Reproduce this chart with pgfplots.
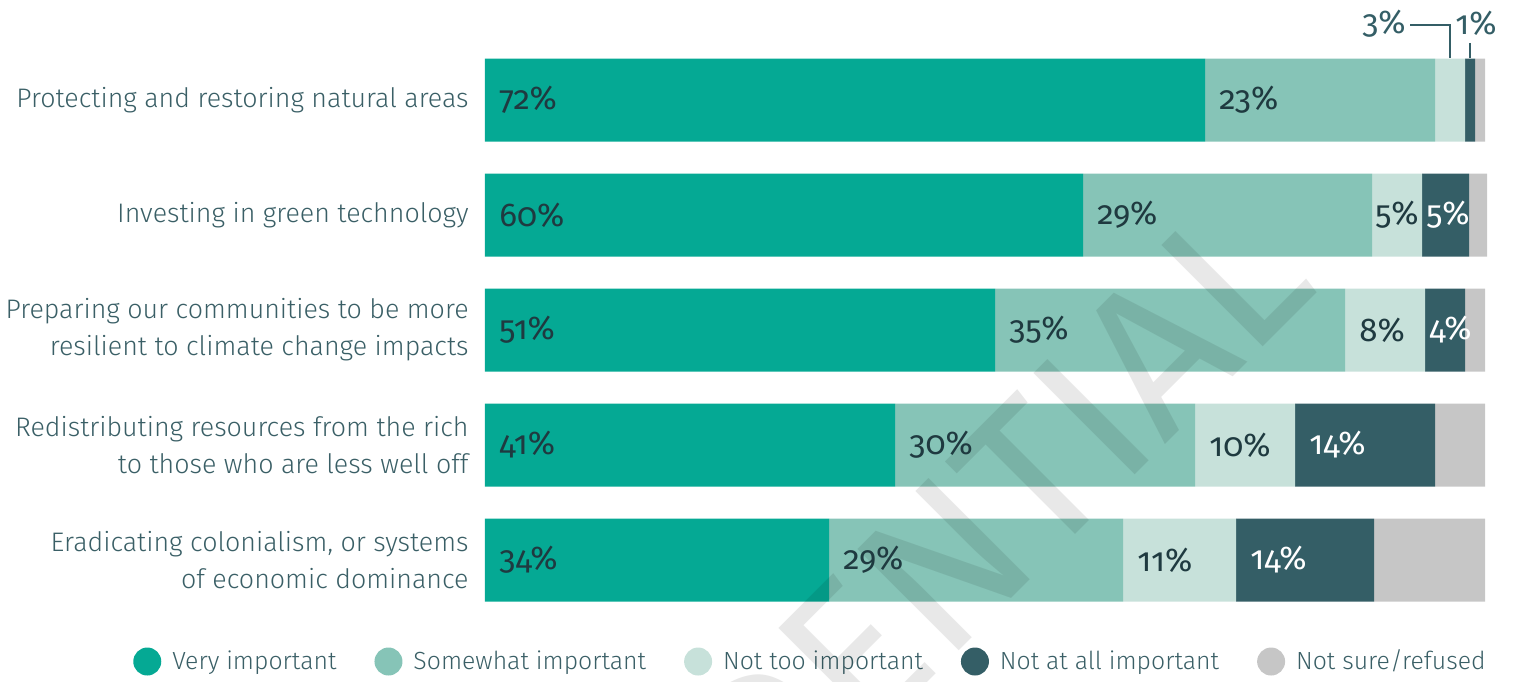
\documentclass[border=0pt]{standalone}
\usepackage{fontspec}
\setmainfont{Fira Sans}[UprightFont=* Light, BoldFont=*]
\newfontfamily\numfont{Fira Sans}[Numbers=OldStyle]
\newfontfamily\wmfont{Fira Sans}
\usepackage{pgfplots}
\pgfplotsset{compat=1.18}
\usepackage{pgfplotstable}

\definecolor{cVery}{HTML}{05A994}
\definecolor{cSome}{HTML}{86C4B7}
\definecolor{cNotToo}{HTML}{C7E1DA}
\definecolor{cNotAll}{HTML}{345E66}
\definecolor{cUnsure}{HTML}{C6C6C6}
\definecolor{labcol}{HTML}{3A5F66}
\definecolor{valdark}{HTML}{1F3A40}

% bar lengths and the printed labels
\pgfplotstableread{
y v    s    n    a    u    lv ls ln la
0 72   23   3    1    1    72 23 3  1
1 59.8 28.9 5.0  4.7  1.8  60 29 5  5
2 51   35   8    4    2    51 35 8  4
3 41   30   10   14   5    41 30 10 14
4 34.4 29.4 11.3 13.8 11.1 34 29 11 14
}\datatable
\pgfplotstablecreatecol[expr={\thisrow{v}}]{c1}{\datatable}
\pgfplotstablecreatecol[expr={\thisrow{v}+\thisrow{s}}]{c2}{\datatable}
\pgfplotstablecreatecol[expr={\thisrow{v}+\thisrow{s}+\thisrow{n}}]{c3}{\datatable}

\newcommand{\labfont}{\fontsize{13.4}{18.5}\selectfont}
\newcommand{\legfont}{\fontsize{12.4}{15}\selectfont}
\newcommand{\valfont}{\numfont\fontsize{16.5}{18}\selectfont}

\begin{document}
\begin{tikzpicture}
\useasboundingbox (-242.5pt,-31.75pt) rectangle (514pt,308.75pt);
\begin{axis}[
  at={(0,0)}, anchor=south west,
  scale only axis, width=500pt, height=287.5pt,
  xbar stacked, bar width=41.5pt,
  xmin=0, xmax=100, ymin=-0.5, ymax=4.5, y dir=reverse,
  axis line style={draw=none}, xtick=\empty, ytick={0,1,2,3,4},
  major tick length=0pt,
  yticklabels={Protecting and restoring natural areas,
    Investing in green technology,
    {Preparing our communities to be more\\resilient to climate change impacts},
    {Redistributing resources from the rich\\to those who are less well off},
    {Eradicating colonialism, or systems\\of economic dominance}},
  yticklabel style={align=right, font=\labfont, text=labcol, inner sep=0pt, xshift=-8pt},
  legend style={at={(1,0)}, anchor=east, yshift=-22pt, xshift=3.5pt, draw=none, fill=none,
    legend columns=-1, font=\legfont, text=labcol,
    nodes={inner sep=0pt},
    /tikz/every odd column/.append style={column sep=5.5pt},
    /tikz/every even column/.append style={column sep=19pt}},
  legend image code/.code={\fill[#1] (7pt,0pt) circle (7pt);},
  clip=false,
]
\addplot[fill=cVery, draw=none] table[x=v, y=y] {\datatable};
\addplot[fill=cSome, draw=none] table[x=s, y=y] {\datatable};
\addplot[fill=cNotToo, draw=none] table[x=n, y=y] {\datatable};
\addplot[fill=cNotAll, draw=none] table[x=a, y=y] {\datatable};
\addplot[fill=cUnsure, draw=none] table[x=u, y=y] {\datatable};
\legend{Very important, Somewhat important, Not too important, Not at all important, Not sure/refused}
\end{axis}

\node[rotate=45, anchor=base east, inner sep=0pt, text=black, text opacity=0.09,
  font=\wmfont\fontsize{104}{104}\selectfont] at (418.5pt,164.75pt) {CONFIDENTIAL};

\begin{axis}[
  at={(0,0)}, anchor=south west,
  scale only axis, width=500pt, height=287.5pt,
  xmin=0, xmax=100, ymin=-0.5, ymax=4.5, y dir=reverse,
  hide axis, clip=false,
  nodes near coords={\pgfplotspointmeta\%},
  every node near coord/.append style={anchor=west, xshift=7pt, inner sep=0pt, font=\valfont},
]
\addplot[draw=none, mark=none, point meta=explicit symbolic,
  every node near coord/.append style={text=valdark}]
  table[x expr=0, y=y, meta=lv] {\datatable};
\addplot[draw=none, mark=none, point meta=explicit symbolic,
  every node near coord/.append style={text=valdark}]
  table[x=c1, y=y, meta=ls] {\datatable};
% not too important: wide segments
\addplot[draw=none, mark=none, point meta=explicit symbolic, skip coords between index={0}{2},
  every node near coord/.append style={text=valdark}]
  table[x=c2, y=y, meta=ln] {\datatable};
% not too important: narrow segment
\addplot[draw=none, mark=none, point meta=explicit symbolic,
  skip coords between index={0}{1}, skip coords between index={2}{5},
  every node near coord/.append style={text=valdark, xshift=-5.5pt}]
  table[x=c2, y=y, meta=ln] {\datatable};
% not at all important: wide segments
\addplot[draw=none, mark=none, point meta=explicit symbolic, skip coords between index={0}{3},
  every node near coord/.append style={text=white}]
  table[x=c3, y=y, meta=la] {\datatable};
% not at all important: narrow segments
\addplot[draw=none, mark=none, point meta=explicit symbolic,
  skip coords between index={0}{1}, skip coords between index={3}{5},
  every node near coord/.append style={text=white, xshift=-5pt}]
  table[x=c3, y=y, meta=la] {\datatable};

\draw[cNotAll, line width=0.8pt] (axis cs:92.5,-0.652) -- (axis cs:96.5,-0.652) -- (axis cs:96.5,-0.365);
\draw[cNotAll, line width=0.8pt] (axis cs:98.5,-0.496) -- (axis cs:98.5,-0.365);
\node[anchor=east, inner sep=0pt, text=cNotAll, font=\valfont] at (axis cs:92.1,-0.66) {3\%};
\node[anchor=west, inner sep=0pt, text=cNotAll, font=\valfont] at (axis cs:97.0,-0.67) {1\%};
\end{axis}
\end{tikzpicture}
\end{document}
